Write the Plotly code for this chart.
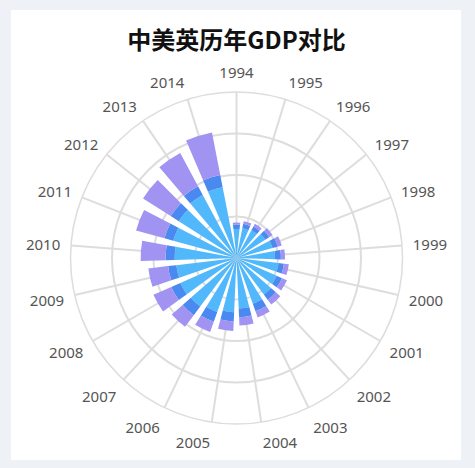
import plotly.graph_objects as go

# ------------------------
# Data (万亿美元)
# ------------------------
years = [str(y) for y in range(1994, 2015)]

usa = [7.0, 7.3, 7.6, 8.2, 9.0, 9.3, 10.2, 10.6, 11.0, 11.7, 12.2,
       13.1, 13.8, 14.6, 14.8, 14.6, 14.9, 15.8, 16.5, 17.2, 17.4]
uk = [1.1, 1.1, 1.0, 1.15, 1.3, 1.4, 1.3, 1.4, 1.6, 1.9, 2.1,
      2.2, 2.5, 2.6, 2.4, 2.0, 2.2, 2.2, 2.3, 2.4, 3.0]
china = [0.45, 0.65, 0.75, 0.95, 1.0, 1.0, 1.2, 1.3, 1.4, 1.6, 2.0,
         2.3, 2.6, 3.5, 4.7, 4.8, 6.0, 7.1, 7.9, 9.1, 10.4]

series = [
    ("美国", usa, "#50b8fb"),
    ("英国", uk, "#4a8af0"),
    ("中国", china, "#a093f2"),
]

W, H = 475, 468
BG = "#eef2f7"
GRID = "#dddddd"

fig = go.Figure()
for name, vals, color in series:
    fig.add_trace(
        go.Barpolar(
            r=vals,
            theta=years,
            name=name,
            marker=dict(color=color, line=dict(width=0)),
            hovertemplate=name + " %{theta}: %{r}<extra></extra>",
        )
    )

# card
fig.add_shape(
    type="rect", xref="paper", yref="paper",
    x0=11 / W, x1=461 / W, y0=1 - 460 / H, y1=1 - 10 / H,
    fillcolor="white", line=dict(width=0), layer="below",
)

cx, cy, rad = 236.5, 258, 166
fig.update_layout(
    width=W,
    height=H,
    paper_bgcolor=BG,
    margin=dict(l=0, r=0, t=0, b=0),
    showlegend=False,
    font=dict(family="Noto Sans, Open Sans, sans-serif", color="#555555"),
    title=dict(
        text="<b>中美英历年GDP对比</b>",
        x=cx / W,
        xanchor="center",
        y=1 - 41 / H,
        yanchor="middle",
        font=dict(family="Noto Sans CJK SC", size=24, color="#111111"),
    ),
    polar=dict(
        domain=dict(
            x=[(cx - rad) / W, (cx + rad) / W],
            y=[(H - cy - rad) / H, (H - cy + rad) / H],
        ),
        bgcolor="rgba(0,0,0,0)",
        barmode="stack",
        bargap=0.29,
        radialaxis=dict(
            range=[0, 40],
            dtick=10,
            showticklabels=False,
            ticks="",
            showline=False,
            gridcolor=GRID,
            gridwidth=1.5,
        ),
        angularaxis=dict(
            type="category",
            categoryorder="array",
            categoryarray=years,
            direction="clockwise",
            rotation=90,
            ticks="outside",
            ticklen=7,
            tickcolor="rgba(0,0,0,0)",
            gridcolor=GRID,
            gridwidth=1.5,
            linecolor=GRID,
            linewidth=1.5,
            tickfont=dict(size=15, color="#555555"),
        ),
    ),
)

# page body has a default 8px margin; drop it so the figure sits at 0,0
fig.write_html(
    "out.html",
    config={"displayModeBar": False},
    post_script="document.body.style.margin='0';",
)
